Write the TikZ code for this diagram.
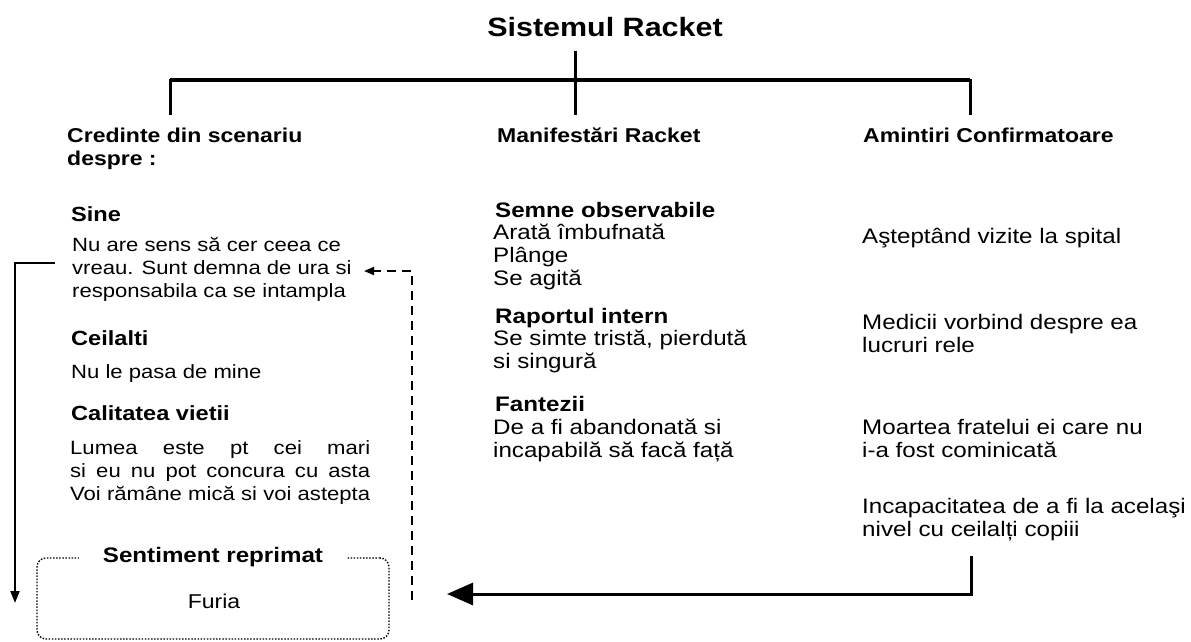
\documentclass[tikz,border=0pt]{standalone}
\usepackage{fontspec}
\setmainfont{Liberation Sans}[FakeStretch=1.15]
\usepackage{tikz}
\usetikzlibrary{positioning,arrows.meta}

\tikzset{
  txt/.style={anchor=base west, inner sep=0pt},
  head/.style={txt, font=\fontsize{20}{23}\selectfont\bfseries},
  subhead/.style={txt, font=\fontsize{20.5}{24}\selectfont\bfseries},
  lefttxt/.style={txt, font=\fontsize{19.2}{23}\selectfont},
  midhead/.style={txt, font=\fontsize{21}{23}\selectfont\bfseries},
  midtxt/.style={txt, font=\fontsize{21}{23}\selectfont},
  bar/.style={line width=3pt},
  flow/.style={line width=1.8pt, -{Triangle[length=12pt,width=9pt]}},
  backflow/.style={line width=1.8pt, dash pattern=on 9pt off 6pt, -{Triangle[length=10pt,width=8pt]}},
  bigflow/.style={line width=3pt, -{Triangle[length=26pt,width=22pt]}},
  dotbox/.style={draw, line width=1.4pt, dash pattern=on 1.5pt off 1.6pt, rounded corners=9pt}
}

\begin{document}
\begin{tikzpicture}[x=1pt,y=-1pt]
\useasboundingbox (0,0) rectangle (1191,642);

% title and tree
\node[font=\fontsize{26.5}{30}\selectfont\bfseries, anchor=base, inner sep=0pt] at (605,37)(title){Sistemul Racket};
\coordinate (stem) at (575,51);
\coordinate (hub) at (575,80);
\coordinate (bl) at (170,115);
\coordinate (bm) at (575,115);
\coordinate (br) at (970,115);
\draw[bar] (stem) -- (bm);
\draw[bar] (bl) -- (bl |- hub) -- (br |- hub) -- (br);
\draw[bar, line width=3.6pt] (bl |- hub) -- (br |- hub);

\node[head] at (67,142)(beliefs){\parbox[t]{300pt}{Credinte din scenariu\\despre :}};
\node[head] at (497,142)(manif){Manifestări Racket};
\node[head] at (863,142)(memories){Amintiri Confirmatoare};

% left column
\node[subhead] at (71,221)(sine){Sine};
\node[lefttxt] at (72,251)(sinetxt){\parbox[t]{300pt}{Nu are sens să cer ceea ce\\vreau. Sunt demna de ura si\\responsabila ca se intampla}};
\node[subhead] at (71,345)(others){Ceilalti};
\node[lefttxt] at (71,378)(otherstxt){Nu le pasa de mine};
\node[subhead] at (71,420)(life){Calitatea vietii};
\node[lefttxt] at (70,454)(lifetxt){\parbox[t]{300pt}{\makebox[300pt][s]{Lumea este pt cei mari}\\\makebox[300pt][s]{si eu nu pot concura cu asta}\\\makebox[300pt][s]{Voi rămâne mică si voi astepta}}};

\node[dotbox, minimum width=352pt, minimum height=81pt, inner sep=0pt] at (213,598.5)(feeling){};
\node[font=\fontsize{21}{24}\selectfont\bfseries, fill=white, inner xsep=24pt, inner ysep=2pt] at (feeling.north)(repressed){Sentiment reprimat};
\node[font=\fontsize{20}{24}\selectfont, anchor=base, inner sep=0pt] at (214,608)(fury){Furia};

% middle column
\node[midhead] at (495,217)(signs){Semne observabile};
\node[midtxt] at (493,239)(signstxt){\parbox[t]{300pt}{Arată îmbufnată\\Plânge\\Se agită}};
\node[midhead] at (495,323)(report){Raportul intern};
\node[midtxt] at (493,345)(reporttxt){\parbox[t]{300pt}{Se simte tristă, pierdută\\si singură}};
\node[midhead] at (495,411)(fantasy){Fantezii};
\node[midtxt] at (493,434)(fantasytxt){\parbox[t]{300pt}{De a fi abandonată si\\incapabilă să facă față}};

% right column
\node[midtxt] at (862,243)(mem1){Aşteptând vizite la spital};
\node[midtxt] at (862,329)(mem2){\parbox[t]{330pt}{Medicii vorbind despre ea\\lucruri rele}};
\node[midtxt] at (862,434)(mem3){\parbox[t]{330pt}{Moartea fratelui ei care nu\\i-a fost cominicată}};
\node[midtxt] at (862,513)(mem4){\parbox[t]{330pt}{Incapacitatea de a fi la acelaşi\\nivel cu ceilalți copiii}};

% arrows
\coordinate (sinefrom) at (55,263);
\coordinate (sineto) at (15,603);
\draw[flow] (sinefrom) -| (sineto);
\coordinate (backfrom) at (412,600);
\coordinate (backto) at (364,271);
\draw[backflow] (backfrom) |- (backto);
\coordinate (memfrom) at (971,556);
\coordinate (memto) at (447,594);
\draw[bigflow] (memfrom) |- (memto);
\end{tikzpicture}
\end{document}
